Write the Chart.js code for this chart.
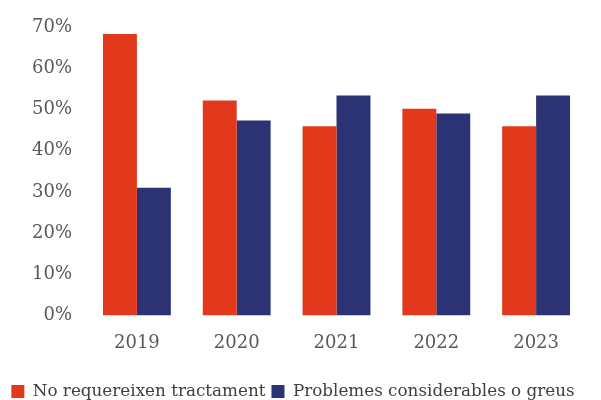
<!DOCTYPE html>
<html><head><meta charset="utf-8">
<script src="https://cdn.jsdelivr.net/npm/chart.js@4"></script>
<style>html,body{margin:0;padding:0;background:#fff}#w{width:601px;height:400px}</style>
</head><body><div id="w"><canvas id="c"></canvas></div>
<script>
const categories = ["2019","2020","2021","2022","2023"];
const noTreatment = [68.3, 52.2, 45.9, 50.2, 45.9];
const seriousProblems = [31.0, 47.3, 53.4, 49.0, 53.4];
const seriesNames = ["No requereixen tractament","Problemes considerables o greus"];
const FONT = "DejaVu Serif";
new Chart(document.getElementById('c'), {
  type: 'bar',
  data: { labels: categories, datasets: [
    { label: seriesNames[0], data: noTreatment, backgroundColor: '#E2381B' },
    { label: seriesNames[1], data: seriousProblems, backgroundColor: '#2B3374' }
  ]},
  options: {
    responsive: true, maintainAspectRatio: false, animation: false,
    layout: { padding: { left: 0, right: 15, top: 27, bottom: -10 } },
    datasets: { bar: { categoryPercentage: 0.68, barPercentage: 1.0 } },
    plugins: {
      legend: { position: 'bottom', labels: { boxWidth: 13, boxHeight: 13, padding: 6, color: '#404040', font: { family: FONT, size: 16.8 } } },
      tooltip: { enabled: false }
    },
    scales: {
      x: { grid: { display: false }, border: { display: false },
        afterFit: s => { s.height += 14; },
        ticks: { color: '#595959', padding: 9, font: { family: FONT, size: 18 } } },
      y: { min: 0, max: 70, grid: { display: false }, border: { display: false },
        afterFit: s => { s.width = 87; },
        ticks: { stepSize: 10, padding: 7, color: '#595959', font: { family: FONT, size: 18 }, callback: v => v + '%' } }
    }
  }
});
</script></body></html>
